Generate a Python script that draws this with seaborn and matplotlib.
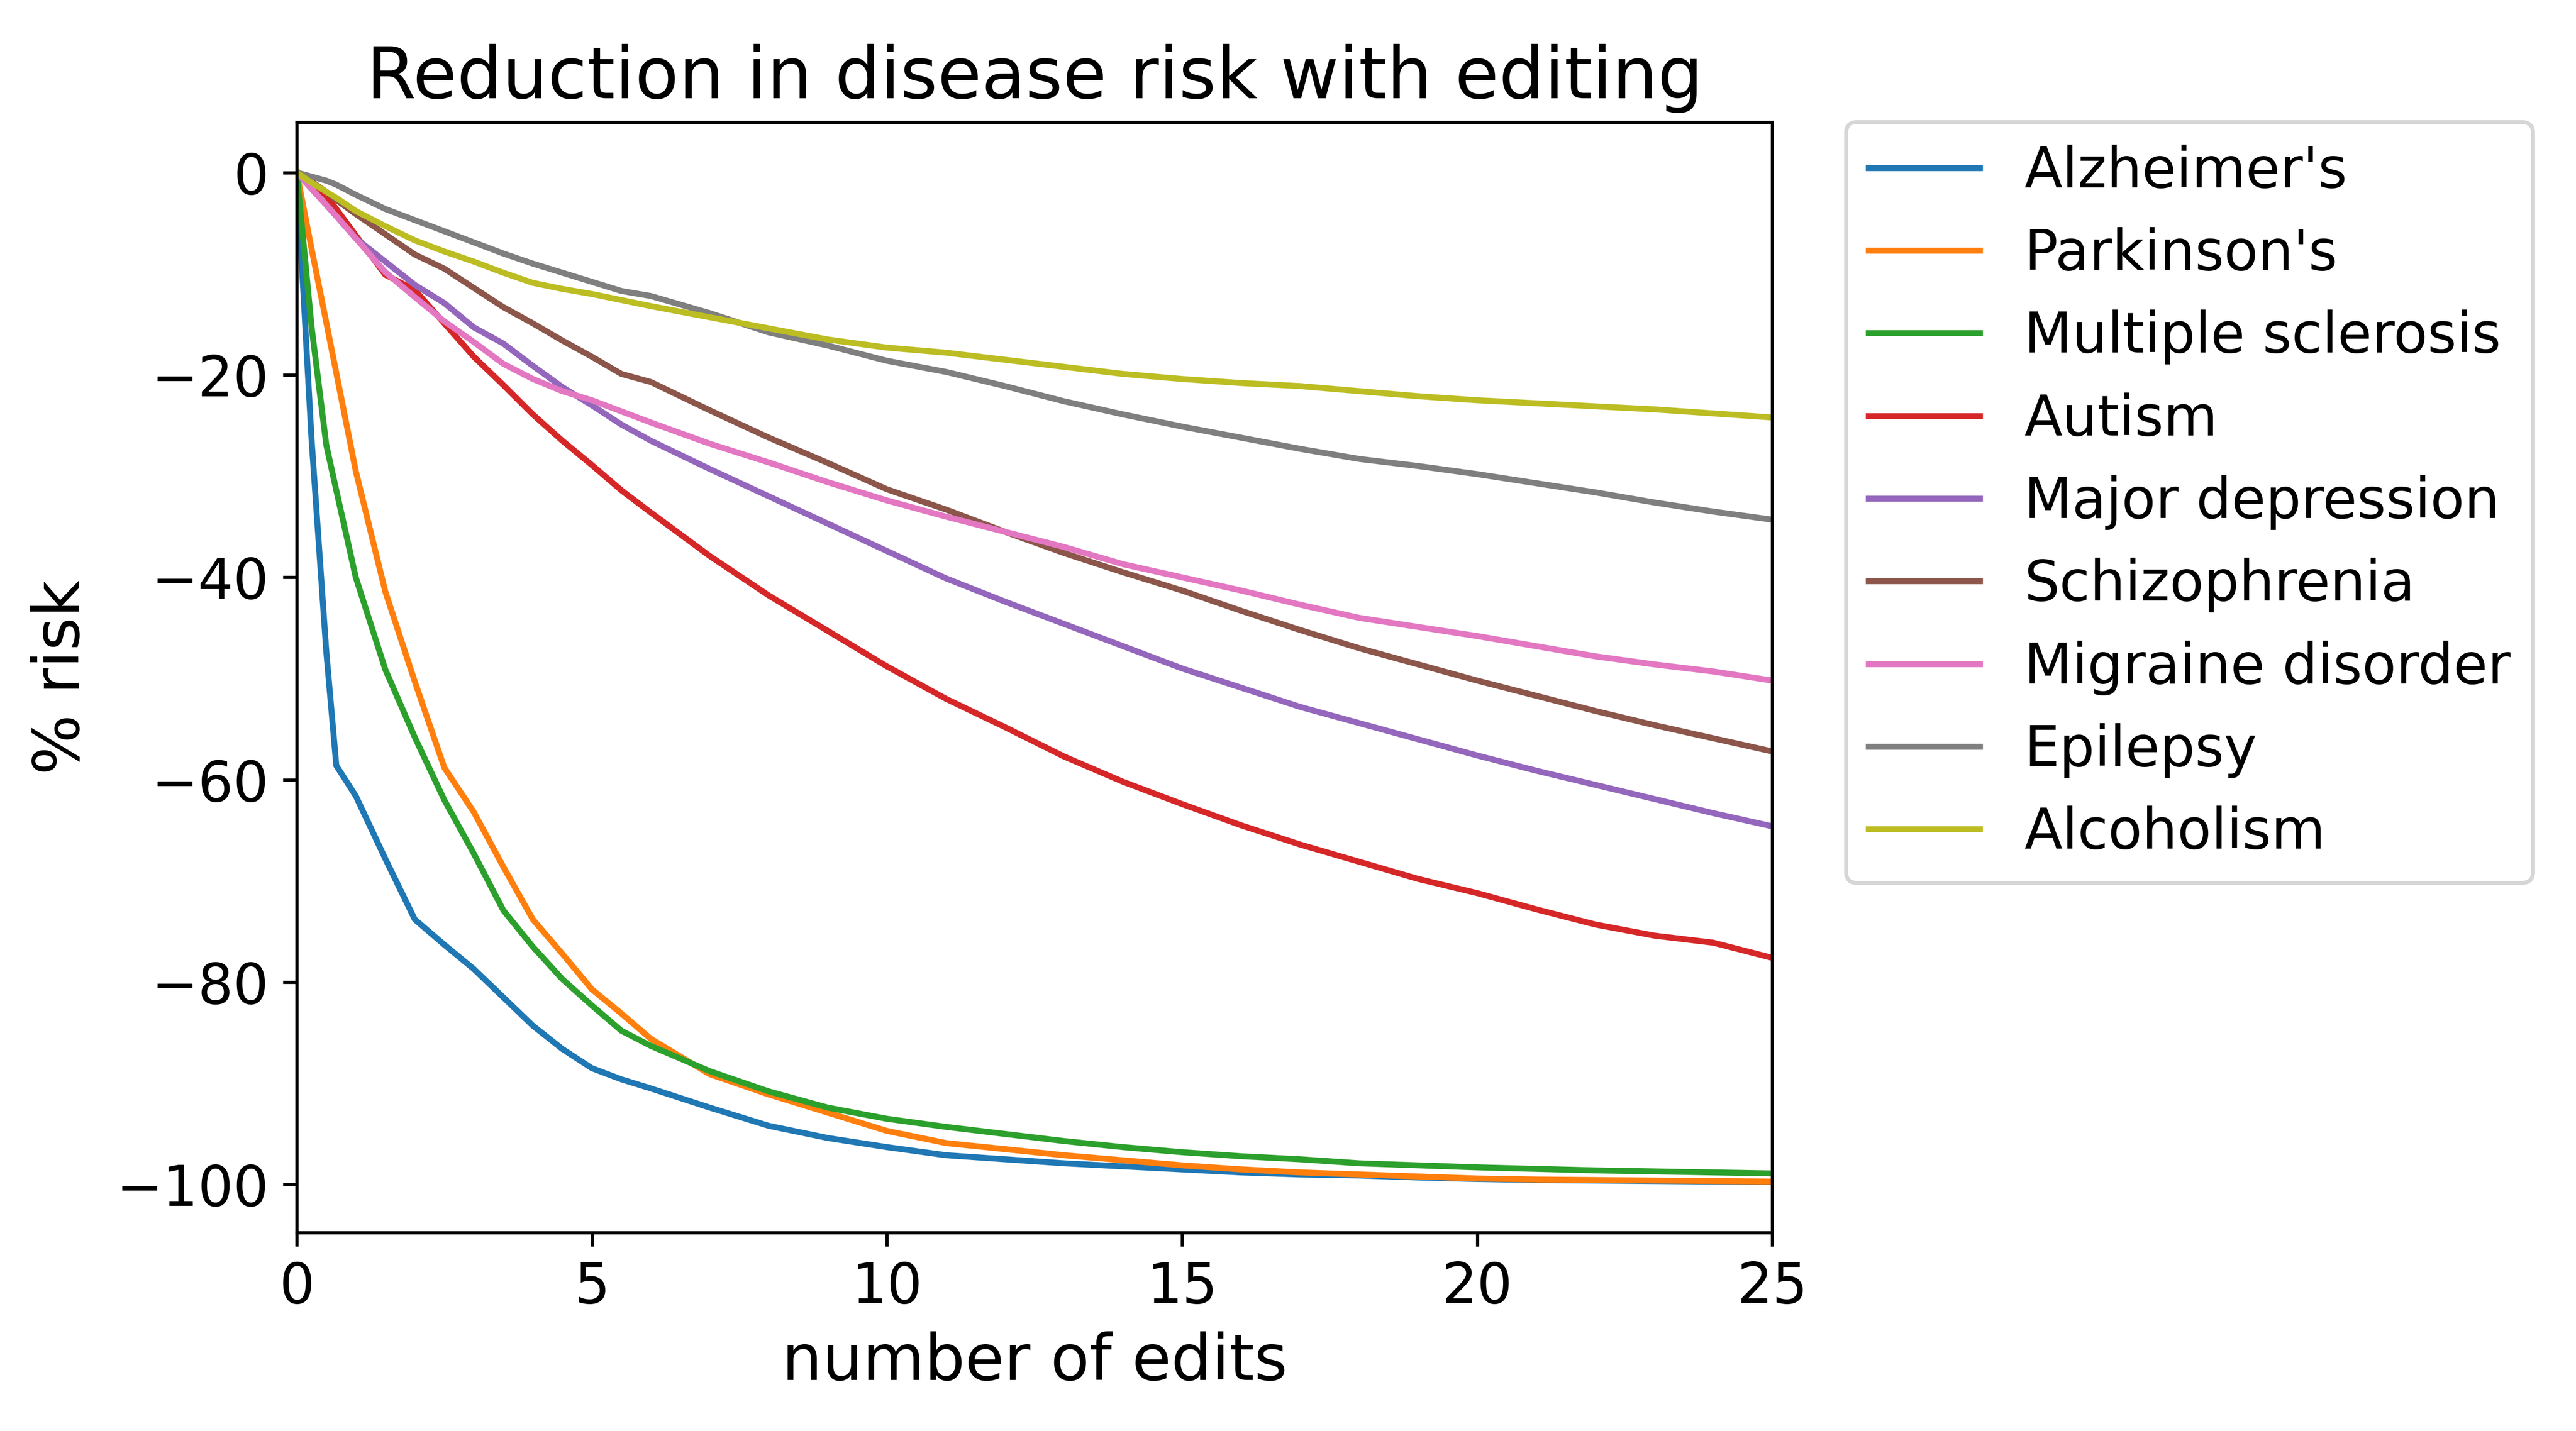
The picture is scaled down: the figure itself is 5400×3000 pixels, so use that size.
import matplotlib
matplotlib.use("Agg")
import matplotlib.pyplot as plt
import seaborn as sns
import pandas as pd

# ---- data ----
edits = [0, 0.25, 0.5, 0.67, 1, 1.5, 2, 2.5, 3, 3.5, 4, 4.5, 5, 5.5, 6, 7, 8, 9,
         10, 11, 12, 13, 14, 15, 16, 17, 18, 19, 20, 21, 22, 23, 24, 25]

diseases = ["Alzheimer's", "Parkinson's", "Multiple sclerosis", "Autism",
            "Major depression", "Schizophrenia", "Migraine disorder",
            "Epilepsy", "Alcoholism"]

alzheimers = [0, -26.3, -47.3, -58.6, -61.6, -67.8, -73.8, -76.3, -78.7, -81.5, -84.3,
              -86.6, -88.5, -89.6, -90.5, -92.4, -94.2, -95.4, -96.3, -97.1, -97.5,
              -97.9, -98.2, -98.5, -98.8, -99.0, -99.1, -99.3, -99.45, -99.55, -99.6,
              -99.65, -99.7, -99.75]
parkinsons = [0, -7.5, -14.8, -19.8, -29.5, -41.4, -50.3, -58.8, -63.2, -68.6, -73.8,
              -77.2, -80.7, -83.1, -85.6, -89.1, -91.1, -92.9, -94.7, -95.9, -96.5,
              -97.1, -97.6, -98.1, -98.5, -98.8, -99.0, -99.2, -99.4, -99.5, -99.55,
              -99.6, -99.65, -99.7]
multiple_sclerosis = [0, -15.2, -26.9, -31.4, -40.0, -49.1, -55.8, -62.0, -67.3, -72.9,
                      -76.5, -79.7, -82.3, -84.8, -86.3, -88.8, -90.8, -92.4, -93.5,
                      -94.3, -95.0, -95.7, -96.3, -96.8, -97.2, -97.5, -97.9, -98.1,
                      -98.3, -98.45, -98.6, -98.7, -98.8, -98.9]
autism = [0, -1.2, -2.3, -3.6, -6.2, -10.1, -11.6, -14.9, -18.2, -21.0, -23.9, -26.5,
          -28.9, -31.4, -33.6, -37.9, -41.8, -45.3, -48.8, -52.0, -54.8, -57.7, -60.2,
          -62.4, -64.5, -66.4, -68.1, -69.8, -71.2, -72.8, -74.3, -75.4, -76.1, -77.6]
major_depression = [0, -1.6, -3.2, -4.3, -6.5, -8.8, -11.1, -12.9, -15.3, -16.9, -19.1,
                    -21.2, -23.0, -24.9, -26.5, -29.3, -32.0, -34.7, -37.4, -40.1,
                    -42.4, -44.6, -46.8, -49.0, -50.9, -52.8, -54.4, -56.0, -57.6,
                    -59.1, -60.5, -61.9, -63.3, -64.6]
schizophrenia = [0, -0.9, -1.9, -2.7, -4.1, -6.1, -8.1, -9.5, -11.4, -13.3, -14.9,
                 -16.6, -18.2, -19.9, -20.7, -23.5, -26.2, -28.7, -31.3, -33.3, -35.5,
                 -37.6, -39.5, -41.3, -43.3, -45.2, -47.0, -48.6, -50.2, -51.7, -53.2,
                 -54.6, -55.9, -57.2]
migraine = [0, -1.6, -3.2, -4.3, -6.5, -9.85, -12.3, -14.7, -16.75, -18.9, -20.4,
            -21.6, -22.5, -23.6, -24.7, -26.8, -28.65, -30.6, -32.4, -34.0, -35.5,
            -37.0, -38.7, -40.0, -41.3, -42.7, -44.0, -44.9, -45.8, -46.8, -47.8,
            -48.6, -49.3, -50.2]
epilepsy = [0, -0.4, -0.8, -1.2, -2.2, -3.6, -4.7, -5.8, -6.9, -8.0, -9.0, -9.9, -10.8,
            -11.7, -12.2, -13.9, -15.8, -17.1, -18.6, -19.7, -21.1, -22.6, -23.9, -25.1,
            -26.2, -27.3, -28.3, -29.0, -29.8, -30.7, -31.6, -32.6, -33.5, -34.3]
alcoholism = [0, -1.0, -1.9, -2.5, -3.8, -5.3, -6.7, -7.8, -8.8, -9.9, -10.9, -11.5,
              -12.0, -12.6, -13.2, -14.3, -15.4, -16.5, -17.3, -17.8, -18.5, -19.2,
              -19.9, -20.4, -20.8, -21.1, -21.6, -22.1, -22.5, -22.8, -23.1, -23.4,
              -23.8, -24.2]

series = [alzheimers, parkinsons, multiple_sclerosis, autism, major_depression,
          schizophrenia, migraine, epilepsy, alcoholism]

title = "Reduction in disease risk with editing"
xlabel = "number of edits"
ylabel = "% risk"

# ---- build table ----
rows = []
for name, vals in zip(diseases, series):
    for x, y in zip(edits, vals):
        rows.append({"edits": x, "risk": y, "disease": name})
df = pd.DataFrame(rows)

# ---- style ----
plt.rcParams.update({
    "font.family": ["DejaVu Sans"],
    "lines.linewidth": 3.0,
    "axes.linewidth": 1.6,
    "xtick.major.size": 7, "ytick.major.size": 7,
    "xtick.major.width": 1.6, "ytick.major.width": 1.6,
    "xtick.major.pad": 7, "ytick.major.pad": 7,
    "xtick.labelsize": 28, "ytick.labelsize": 28,
})

fig = plt.figure(figsize=(18, 10), dpi=300)
ax = fig.add_axes([0.1152, 0.1387, 0.5728, 0.776])

sns.lineplot(data=df, x="edits", y="risk", hue="disease", hue_order=diseases,
             palette="tab10", errorbar=None, ax=ax, linewidth=3)

ax.set_xlim(0, 25)
ax.set_xticks([0, 5, 10, 15, 20, 25])
ax.set_yticks([0, -20, -40, -60, -80, -100])
ax.set_title(title, fontsize=36, pad=12)
ax.set_xlabel(xlabel, fontsize=32, labelpad=8)
ax.set_ylabel(ylabel, fontsize=32, labelpad=12)

handles, labels = ax.get_legend_handles_labels()
leg = ax.legend(handles, labels, bbox_to_anchor=(1.05, 1), loc="upper left",
                borderaxespad=0, fontsize=28)
leg.get_frame().set_linewidth(2)
for h in leg.legend_handles:
    h.set_linewidth(3)

fig.savefig("out.png", dpi=300)
